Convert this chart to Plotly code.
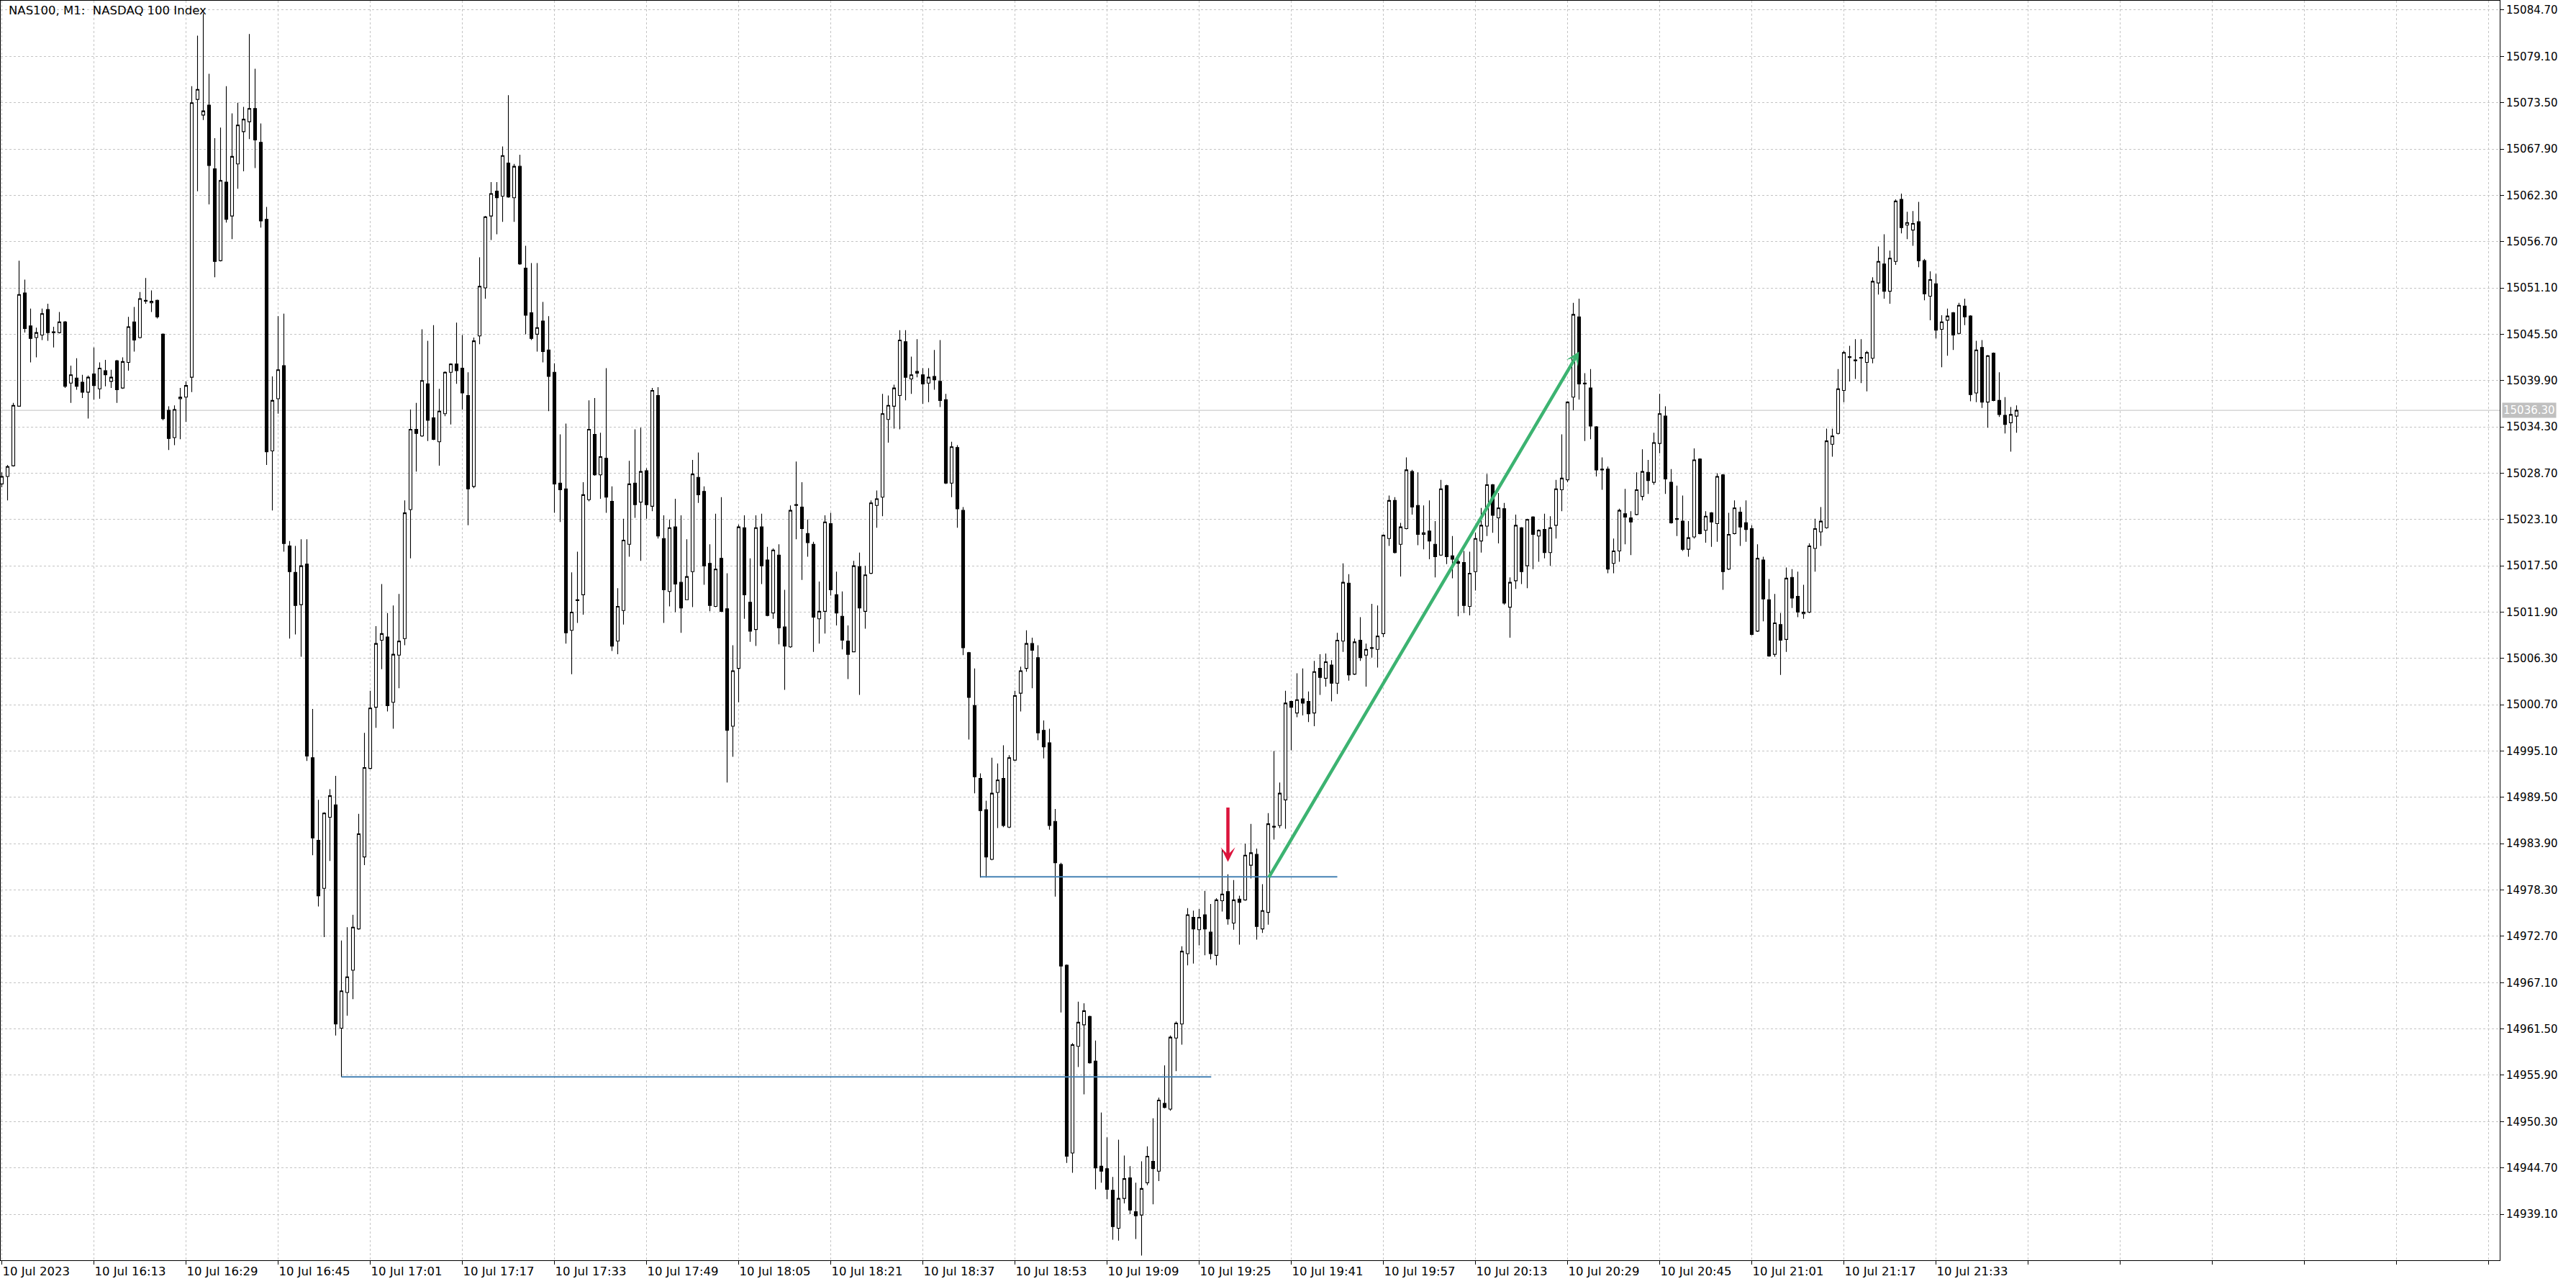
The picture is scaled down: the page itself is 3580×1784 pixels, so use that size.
import plotly.graph_objects as go

# ---------------- data (NAS100, M1, 10 Jul 2023, first bar 15:57) ----------------
opens = [
15027.4, 15028.3, 15029.6, 15036.8, 15050.5, 15046.5, 15045.1, 15045.4, 15048.5, 15045.7,
15045.7, 15047.0, 15039.6, 15040.2, 15039.7, 15038.5, 15040.7, 15038.9, 15041.1, 15039.8,
15042.3, 15039.0, 15042.1, 15047.0, 15045.1, 15049.5, 15049.3, 15049.6, 15045.5, 15036.3,
15033.0, 15037.7, 15037.9, 15040.3, 15073.9, 15072.0, 15073.2, 15065.5, 15054.4, 15063.9,
15059.8, 15066.1, 15070.0, 15071.2, 15072.8, 15068.7, 15059.4, 15031.4, 15037.7, 15041.7,
15019.9, 15016.7, 15012.8, 15017.7, 14994.3, 14984.3, 14978.5, 14987.1, 14988.6, 14961.6,
14965.9, 14968.6, 14973.6, 14982.3, 14993.0, 15000.4, 15008.5, 15008.9, 15001.0, 15006.7,
15008.7, 15024.3, 15034.0, 15033.2, 15039.5, 15035.4, 15032.5, 15035.9, 15040.9, 15041.9,
15041.4, 15038.1, 15027.1, 15045.3, 15051.1, 15059.8, 15062.8, 15062.2, 15066.2, 15062.0,
15065.8, 15053.5, 15048.1, 15045.5, 15047.1, 15043.6, 15040.9, 15027.5, 15026.8, 15009.7,
15013.3, 15014.0, 15025.5, 15033.4, 15028.5, 15030.5, 15025.3, 15008.4, 15012.1, 15020.1,
15027.5, 15025.2, 15029.0, 15024.7, 15038.1, 15020.8, 15014.4, 15022.2, 15015.5, 15013.4,
15016.8, 15028.2, 15026.5, 15017.8, 15012.6, 15018.4, 15012.3, 14998.1, 15005.1, 15022.1,
15013.1, 15009.8, 15022.2, 15018.2, 15011.8, 15018.8, 15010.1, 15007.7, 15024.8, 15024.6,
15021.4, 15020.1, 15011.1, 15012.0, 15022.6, 15014.0, 15011.4, 15008.4, 15007.1, 15017.4,
15012.0, 15016.6, 15024.8, 15025.8, 15035.2, 15036.8, 15038.1, 15044.6, 15040.1, 15041.0,
15040.6, 15039.6, 15040.4, 15039.8, 15037.6, 15027.5, 15031.8, 15024.2, 15007.0, 15000.6,
14991.8, 14988.0, 14982.0, 14990.1, 14991.8, 14985.9, 14994.0, 15002.1, 15005.1, 15008.1,
15006.4, 14997.6, 14996.1, 14986.6, 14981.4, 14969.2, 14946.5, 14959.4, 14962.0, 14963.0,
14957.6, 14944.9, 14944.6, 14942.0, 14937.4, 14941.0, 14943.5, 14939.4, 14939.0, 14942.9,
14945.5, 14944.3, 14952.5, 14951.8, 14960.4, 14962.1, 14970.6, 14975.0, 14973.5, 14975.3,
14973.2, 14970.4, 14977.0, 14978.1, 14974.3, 14977.2, 14977.1, 14981.3, 14982.6, 14973.6,
14975.6, 14986.0, 14986.1, 14989.2, 15001.1, 14999.7, 15001.4, 15001.1, 14999.7, 15005.1,
15003.9, 15005.5, 15003.3, 15008.4, 15015.4, 15004.4, 15008.5, 15006.7, 15007.6, 15007.4,
15009.3, 15020.8, 15025.4, 15020.1, 15022.0, 15028.9, 15024.8, 15021.3, 15021.7, 15020.1,
15018.8, 15027.2, 15018.7, 15018.0, 15017.9, 15012.6, 15016.8, 15020.5, 15022.3, 15027.3,
15023.3, 15024.4, 15012.5, 15015.7, 15022.1, 15017.5, 15023.4, 15021.1, 15021.9, 15019.1,
15022.4, 15026.7, 15027.9, 15037.9, 15047.6, 15039.6, 15039.0, 15034.3, 15029.2, 15029.2,
15017.8, 15019.3, 15023.8, 15023.3, 15023.7, 15025.9, 15028.8, 15027.6, 15032.3, 15035.6,
15027.6, 15023.2, 15022.9, 15019.5, 15021.0, 15030.4, 15021.8, 15023.9, 15022.6, 15028.5,
15017.1, 15021.4, 15024.0, 15022.7, 15022.0, 15009.6, 15018.2, 15013.4, 15006.8, 15010.4,
15008.6, 15016.1, 15013.8, 15011.7, 15011.9, 15019.6, 15021.6, 15022.1, 15032.2, 15033.5,
15038.7, 15042.7, 15042.4, 15042.7, 15042.1, 15042.6, 15051.7, 15054.0, 15050.7, 15054.3,
15061.8, 15058.7, 15058.1, 15059.1, 15054.4, 15050.1, 15051.6, 15046.1, 15047.2, 15048.1,
15045.6, 15048.9, 15047.7, 15038.4, 15043.9, 15037.3, 15043.2, 15037.5, 15035.7, 15034.8,
15035.6,
]

highs = [
15028.8, 15029.7, 15037.2, 15054.4, 15052.1, 15048.6, 15046.3, 15048.6, 15049.2, 15046.4,
15048.2, 15047.1, 15041.7, 15042.6, 15040.6, 15040.5, 15043.9, 15042.1, 15042.4, 15041.2,
15042.4, 15042.7, 15047.6, 15048.8, 15050.6, 15052.3, 15050.8, 15049.7, 15045.6, 15036.8,
15036.9, 15039.0, 15039.8, 15075.5, 15081.6, 15084.3, 15077.0, 15069.2, 15070.5, 15075.5,
15072.2, 15073.5, 15073.0, 15081.8, 15077.6, 15071.0, 15060.9, 15040.4, 15047.7, 15048.0,
15020.5, 15019.9, 15020.7, 15020.7, 15000.2, 14989.2, 14987.7, 14990.5, 14992.1, 14972.2,
14973.8, 14975.3, 14987.5, 14997.3, 15002.4, 15010.2, 15015.3, 15011.8, 15012.7, 15014.1,
15025.4, 15036.4, 15037.2, 15046.1, 15044.7, 15046.6, 15038.9, 15041.0, 15042.0, 15046.9,
15045.4, 15040.9, 15045.1, 15054.8, 15059.8, 15063.9, 15063.9, 15068.2, 15074.4, 15066.1,
15067.2, 15056.2, 15054.1, 15054.1, 15049.4, 15047.7, 15042.0, 15033.4, 15034.7, 15016.7,
15019.2, 15027.6, 15037.5, 15037.8, 15033.6, 15041.4, 15027.1, 15014.8, 15023.2, 15030.2,
15034.0, 15034.2, 15029.3, 15039.0, 15039.1, 15023.6, 15023.1, 15025.6, 15023.6, 15020.7,
15030.3, 15031.2, 15027.1, 15020.1, 15023.8, 15025.8, 15016.6, 15007.9, 15022.5, 15023.6,
15018.4, 15023.6, 15023.8, 15019.8, 15019.6, 15020.1, 15014.6, 15024.8, 15030.1, 15027.6,
15023.1, 15020.4, 15015.6, 15023.6, 15023.9, 15016.8, 15014.4, 15010.3, 15018.1, 15019.1,
15017.5, 15025.4, 15026.6, 15038.3, 15038.1, 15039.4, 15046.0, 15046.0, 15042.8, 15044.9,
15041.4, 15041.4, 15043.6, 15044.8, 15038.3, 15032.5, 15032.1, 15024.6, 15007.1, 15005.1,
14992.4, 14989.1, 14994.3, 14993.6, 14995.8, 14994.6, 15002.4, 15005.3, 15009.7, 15008.8,
15007.9, 14998.8, 14997.8, 14988.1, 14981.6, 14969.3, 14959.8, 14964.8, 14964.6, 14963.1,
14960.1, 14951.4, 14948.4, 14943.6, 14948.1, 14946.2, 14944.9, 14942.9, 14945.5, 14947.3,
14950.7, 14953.2, 14957.1, 14960.7, 14962.4, 14971.5, 14976.1, 14975.8, 14976.0, 14978.2,
14976.6, 14977.3, 14983.2, 14980.2, 14979.5, 14977.6, 14983.9, 14986.3, 14983.3, 14979.0,
14987.6, 14995.1, 14991.3, 15002.4, 15001.2, 15004.5, 15005.1, 15002.3, 15006.0, 15006.8,
15006.9, 15006.1, 15009.4, 15017.8, 15016.5, 15008.7, 15011.3, 15008.1, 15012.9, 15012.7,
15021.3, 15026.0, 15025.8, 15022.7, 15030.6, 15029.1, 15028.8, 15024.8, 15025.4, 15022.9,
15027.9, 15027.3, 15021.1, 15018.6, 15019.3, 15019.2, 15021.5, 15024.5, 15028.6, 15027.4,
15026.3, 15025.1, 15016.1, 15023.7, 15022.2, 15023.2, 15023.5, 15021.9, 15023.8, 15023.5,
15027.9, 15033.4, 15037.4, 15049.3, 15049.8, 15040.8, 15041.3, 15034.4, 15030.6, 15029.5,
15020.8, 15024.4, 15026.8, 15024.1, 15028.8, 15031.6, 15030.3, 15033.6, 15038.3, 15036.8,
15029.2, 15027.2, 15026.0, 15022.9, 15031.7, 15030.5, 15024.1, 15024.0, 15028.7, 15028.6,
15023.9, 15025.4, 15024.6, 15025.4, 15022.4, 15020.1, 15018.6, 15015.9, 15014.1, 15011.8,
15017.3, 15017.1, 15016.8, 15015.2, 15020.2, 15023.2, 15024.6, 15034.1, 15034.1, 15041.3,
15043.5, 15044.1, 15044.9, 15044.9, 15043.5, 15052.4, 15056.1, 15057.6, 15055.6, 15061.8,
15062.5, 15060.3, 15060.4, 15061.5, 15054.6, 15053.1, 15052.8, 15047.8, 15048.6, 15048.2,
15049.3, 15049.8, 15047.8, 15044.7, 15044.8, 15043.0, 15043.3, 15040.9, 15037.9, 15036.7,
15036.9,
]

lows = [
15027.0, 15025.4, 15029.5, 15036.8, 15045.7, 15042.1, 15042.7, 15044.8, 15044.7, 15043.9,
15045.6, 15039.0, 15037.2, 15038.8, 15037.8, 15035.3, 15037.6, 15037.7, 15039.2, 15039.0,
15037.2, 15038.9, 15041.1, 15043.4, 15045.0, 15049.2, 15048.2, 15047.4, 15035.1, 15031.5,
15032.1, 15032.8, 15034.9, 15038.5, 15062.8, 15071.4, 15061.2, 15052.4, 15054.3, 15059.0,
15057.0, 15063.1, 15065.2, 15069.1, 15065.6, 15058.4, 15029.7, 15024.2, 15035.9, 15019.2,
15008.7, 15009.2, 15006.5, 14993.9, 14982.5, 14976.3, 14972.6, 14981.8, 14960.7, 14955.7,
14963.1, 14965.1, 14973.5, 14981.3, 14992.9, 14997.9, 15005.0, 14999.9, 14997.8, 15002.7,
15007.9, 15018.4, 15028.9, 15033.1, 15032.6, 15032.7, 15029.6, 15035.6, 15034.6, 15039.5,
15036.4, 15022.4, 15026.9, 15044.3, 15049.8, 15056.9, 15057.6, 15059.1, 15062.0, 15059.1,
15053.9, 15045.5, 15044.8, 15043.4, 15042.1, 15036.2, 15023.9, 15022.8, 15008.1, 15004.4,
15010.6, 15011.6, 15025.3, 15028.4, 15025.6, 15023.9, 15007.2, 15006.8, 15010.4, 15018.6,
15023.3, 15018.1, 15023.2, 15024.1, 15020.8, 15010.6, 15012.6, 15011.9, 15009.4, 15013.4,
15012.5, 15025.1, 15015.2, 15012.0, 15012.5, 15011.9, 14991.3, 14994.4, 15001.0, 15011.1,
15008.3, 15007.8, 15015.3, 15011.4, 15011.1, 15008.0, 15002.5, 15007.6, 15020.7, 15015.8,
15018.6, 15007.1, 15008.1, 15009.3, 15013.9, 15010.3, 15007.4, 15003.8, 15007.1, 15001.9,
15009.9, 15016.5, 15022.1, 15023.5, 15032.4, 15034.1, 15034.0, 15037.5, 15038.3, 15040.3,
15037.1, 15037.3, 15038.8, 15036.7, 15027.4, 15025.8, 15022.1, 15006.7, 14996.5, 14990.0,
14979.8, 14979.8, 14981.9, 14985.8, 14985.9, 14985.8, 14993.9, 14999.9, 15004.7, 15002.7,
14996.4, 14994.2, 14985.6, 14977.5, 14963.5, 14945.3, 14944.1, 14956.9, 14953.6, 14957.3,
14942.1, 14942.9, 14940.9, 14936.0, 14935.9, 14940.4, 14939.1, 14936.1, 14934.1, 14942.6,
14940.3, 14943.1, 14951.9, 14951.6, 14956.4, 14959.6, 14969.2, 14969.4, 14971.6, 14970.4,
14969.9, 14969.2, 14975.7, 14974.1, 14973.5, 14971.7, 14977.0, 14979.7, 14972.3, 14973.1,
14974.1, 14984.4, 14985.8, 14985.7, 14995.2, 14999.2, 14999.4, 14998.6, 14998.1, 15001.9,
15002.9, 15001.1, 15002.0, 15007.1, 15003.6, 15004.3, 15006.0, 15002.9, 15006.4, 15005.2,
15008.9, 15019.9, 15019.0, 15016.2, 15021.9, 15023.7, 15020.0, 15019.5, 15018.3, 15016.1,
15018.7, 15017.7, 15016.0, 15011.4, 15011.8, 15011.5, 15014.5, 15019.1, 15021.1, 15021.5,
15020.2, 15012.8, 15008.8, 15014.7, 15015.3, 15014.8, 15017.1, 15018.0, 15018.4, 15017.5,
15020.8, 15024.1, 15027.6, 15036.3, 15037.6, 15032.6, 15032.8, 15028.3, 15026.7, 15016.6,
15016.6, 15018.0, 15020.1, 15018.8, 15023.6, 15025.4, 15026.2, 15027.3, 15031.1, 15026.2,
15022.6, 15021.1, 15019.3, 15018.6, 15020.8, 15021.3, 15020.3, 15019.8, 15020.4, 15014.6,
15017.0, 15021.3, 15019.9, 15020.4, 15009.1, 15009.5, 15010.8, 15006.5, 15006.5, 15004.3,
15007.1, 15012.4, 15011.3, 15011.1, 15011.8, 15016.8, 15019.9, 15022.0, 15030.7, 15033.4,
15037.3, 15039.8, 15040.1, 15039.6, 15038.6, 15042.0, 15050.3, 15049.8, 15049.2, 15053.9,
15057.7, 15057.0, 15056.2, 15053.6, 15049.6, 15047.2, 15045.0, 15041.5, 15042.9, 15043.6,
15045.5, 15046.6, 15037.4, 15037.3, 15036.6, 15034.2, 15037.4, 15035.5, 15033.5, 15031.3,
15033.6,
]

closes = [
15028.3, 15029.5, 15036.9, 15050.3, 15046.2, 15045.0, 15045.7, 15048.0, 15045.7, 15045.8,
15047.0, 15039.2, 15040.6, 15039.2, 15038.5, 15040.3, 15039.3, 15041.4, 15040.6, 15040.3,
15038.8, 15042.2, 15046.4, 15044.8, 15049.8, 15049.6, 15049.5, 15047.6, 15035.3, 15032.9,
15036.4, 15037.9, 15039.3, 15073.5, 15075.1, 15072.5, 15065.9, 15054.3, 15064.1, 15059.4,
15067.0, 15070.8, 15071.5, 15072.8, 15069.0, 15059.2, 15031.3, 15037.5, 15041.2, 15020.2,
15016.8, 15012.7, 15017.5, 14994.5, 14984.6, 14977.6, 14987.6, 14989.7, 14962.1, 14966.1,
14967.8, 14973.8, 14985.1, 14993.1, 15000.3, 15008.1, 15009.3, 15000.6, 15006.8, 15008.4,
15023.9, 15034.0, 15033.5, 15039.9, 15035.1, 15032.8, 15036.2, 15040.9, 15041.9, 15041.1,
15038.4, 15026.8, 15044.7, 15051.3, 15059.7, 15062.5, 15062.0, 15067.1, 15062.1, 15065.8,
15054.0, 15047.8, 15045.0, 15046.3, 15043.4, 15040.4, 15027.4, 15026.7, 15009.4, 15011.9,
15013.4, 15026.1, 15034.0, 15028.5, 15030.7, 15025.8, 15007.8, 15012.6, 15020.6, 15027.4,
15024.9, 15028.9, 15024.9, 15038.7, 15021.1, 15014.6, 15022.1, 15015.3, 15012.4, 15016.2,
15028.6, 15026.1, 15017.5, 15012.7, 15017.1, 15012.0, 14997.6, 15004.8, 15022.2, 15014.0,
15009.6, 15022.1, 15017.5, 15011.5, 15019.4, 15010.0, 15007.8, 15024.2, 15024.9, 15022.0,
15020.3, 15011.3, 15012.0, 15022.8, 15014.6, 15011.8, 15008.5, 15006.8, 15017.5, 15012.4,
15016.4, 15025.1, 15025.6, 15035.9, 15036.9, 15039.0, 15044.8, 15040.3, 15040.6, 15040.8,
15039.5, 15040.3, 15040.0, 15037.5, 15027.5, 15031.9, 15024.4, 15007.6, 15001.6, 14992.0,
14987.9, 14982.3, 14990.0, 14991.6, 14986.1, 14994.3, 15001.8, 15004.8, 15008.1, 15007.3,
14997.3, 14995.6, 14986.1, 14981.6, 14969.1, 14946.1, 14959.6, 14962.3, 14963.7, 14957.4,
14944.7, 14944.3, 14942.1, 14937.6, 14941.0, 14943.4, 14939.6, 14938.9, 14942.2, 14946.1,
14944.6, 14952.9, 14952.0, 14960.5, 14962.2, 14970.9, 14975.3, 14973.6, 14975.0, 14973.6,
14970.6, 14977.1, 14977.8, 14974.8, 14977.1, 14976.8, 14982.5, 14982.8, 14973.9, 14975.8,
14986.3, 14985.9, 14990.0, 15000.9, 15000.4, 15001.3, 15000.9, 14999.6, 15004.7, 15004.0,
15005.9, 15003.3, 15008.5, 15015.5, 15004.3, 15008.3, 15006.4, 15007.4, 15007.5, 15009.0,
15021.2, 15025.4, 15019.1, 15022.2, 15029.1, 15024.6, 15021.3, 15021.5, 15020.5, 15018.6,
15026.8, 15018.6, 15018.3, 15017.8, 15012.7, 15016.6, 15020.8, 15022.4, 15027.3, 15023.6,
15024.5, 15013.0, 15015.5, 15022.4, 15016.8, 15023.1, 15021.3, 15021.8, 15019.1, 15022.1,
15026.8, 15028.1, 15037.3, 15047.9, 15039.5, 15039.5, 15034.4, 15029.1, 15029.1, 15017.1,
15019.3, 15024.2, 15023.4, 15022.8, 15026.7, 15028.9, 15027.8, 15032.4, 15035.9, 15028.0,
15022.7, 15023.1, 15019.5, 15020.9, 15030.3, 15021.4, 15023.5, 15022.8, 15028.3, 15016.8,
15021.3, 15024.5, 15022.2, 15021.9, 15009.2, 15018.4, 15013.5, 15006.6, 15010.6, 15008.5,
15016.0, 15013.6, 15011.9, 15011.9, 15019.9, 15022.0, 15022.9, 15032.6, 15033.2, 15038.9,
15043.3, 15042.8, 15042.3, 15042.6, 15043.3, 15051.9, 15054.3, 15050.7, 15054.7, 15061.6,
15058.4, 15059.0, 15058.9, 15054.4, 15050.4, 15052.1, 15046.0, 15047.0, 15047.7, 15045.4,
15049.0, 15047.6, 15038.2, 15043.6, 15037.3, 15042.9, 15037.5, 15035.8, 15034.6, 15035.8,
15036.3,
]

time_labels = [
    "10 Jul 2023", "10 Jul 16:13", "10 Jul 16:29", "10 Jul 16:45", "10 Jul 17:01",
    "10 Jul 17:17", "10 Jul 17:33", "10 Jul 17:49", "10 Jul 18:05", "10 Jul 18:21",
    "10 Jul 18:37", "10 Jul 18:53", "10 Jul 19:09", "10 Jul 19:25", "10 Jul 19:41",
    "10 Jul 19:57", "10 Jul 20:13", "10 Jul 20:29", "10 Jul 20:45", "10 Jul 21:01",
    "10 Jul 21:17", "10 Jul 21:33",
]
bars_per_label = 16
visible_bars = 434  # width of the visible time window, in bars

price_tick_labels = [
    "14939.10", "14944.70", "14950.30", "14955.90", "14961.50", "14967.10", "14972.70",
    "14978.30", "14983.90", "14989.50", "14995.10", "15000.70", "15006.30", "15011.90",
    "15017.50", "15023.10", "15028.70", "15034.30", "15039.90", "15045.50", "15051.10",
    "15056.70", "15062.30", "15067.90", "15073.50", "15079.10", "15084.70",
]
price_range = [14933.53, 15085.83]

current_price = 15036.30

# horizontal level lines: start bar, end bar, price
level_starts = [59, 170]
level_ends = [210.1, 232.0]
level_prices = [14955.7, 14979.9]

# green trend arrow (bar, price)
trend_start = (220, 14979.7)
trend_end = (274, 15043.4)

# red signal arrow
signal_bar = 213
signal_top = 14988.4
signal_tip = 14981.7

# ---------------- figure ----------------
bars = list(range(len(opens)))

fig = go.Figure()
fig.add_trace(go.Candlestick(
    x=bars, open=opens, high=highs, low=lows, close=closes,
    increasing=dict(line=dict(color="black", width=1.1), fillcolor="white"),
    decreasing=dict(line=dict(color="black", width=1.1), fillcolor="black"),
    whiskerwidth=0, showlegend=False, hoverinfo="skip",
))

grid_ticks = list(range(0, visible_bars, bars_per_label))
grid_text = [time_labels[k] if k < len(time_labels) else "" for k in range(len(grid_ticks))]

FONT = "DejaVu Sans"
GRID = "#c4c4c4"
x_left = -0.1875

fig.update_xaxes(
    range=[x_left, x_left + 3473 / 8],
    tickmode="array", tickvals=grid_ticks, ticktext=grid_text,
    ticklabelposition="outside right",
    ticks="outside", ticklen=5, tickcolor="black", tickwidth=1,
    showgrid=True, gridcolor=GRID, gridwidth=1, griddash="3px,3px",
    showline=True, linecolor="black", linewidth=1, mirror=True,
    zeroline=False, rangeslider=dict(visible=False),
    tickfont=dict(family=FONT, size=16.5, color="black"),
)
fig.update_yaxes(
    side="right", range=price_range,
    tickmode="array", tickvals=[float(t) for t in price_tick_labels], ticktext=price_tick_labels,
    ticks="outside", ticklen=5, tickcolor="black", tickwidth=1,
    showgrid=True, gridcolor=GRID, gridwidth=1, griddash="3px,3px",
    showline=True, linecolor="black", linewidth=1, mirror=True,
    zeroline=False,
    tickfont=dict(family=FONT, size=15, color="black"),
)

shapes = [dict(type="line", xref="paper", yref="y", x0=0, x1=1, y0=current_price, y1=current_price,
               line=dict(color="#c0c0c0", width=1), layer="below")]
for x0, x1, p in zip(level_starts, level_ends, level_prices):
    shapes.append(dict(type="line", xref="x", yref="y", x0=x0, x1=x1, y0=p, y1=p,
                       line=dict(color="#4682b4", width=2)))

annotations = [
    dict(xref="paper", yref="paper", x=0, y=1, xanchor="left", yanchor="top",
         xshift=9, yshift=-2, showarrow=False,
         text="NAS100, M1:\u00a0 NASDAQ 100 Index",
         font=dict(family=FONT, size=16.5, color="black")),
    dict(xref="paper", yref="y", x=1, y=current_price, xanchor="left", yanchor="middle",
         xshift=3, showarrow=False, text=f"{current_price:.2f}", bgcolor="#c0c0c0",
         borderpad=1, font=dict(family=FONT, size=15, color="white")),
    dict(xref="x", yref="y", axref="x", ayref="y",
         x=trend_end[0], y=trend_end[1], ax=trend_start[0], ay=trend_start[1],
         showarrow=True, arrowhead=3, arrowsize=0.7, arrowwidth=4.5, arrowcolor="#3cb371", text=""),
    dict(xref="x", yref="y", axref="x", ayref="y",
         x=signal_bar, y=signal_tip, ax=signal_bar, ay=signal_top,
         showarrow=True, arrowhead=3, arrowsize=0.75, arrowwidth=4.5, arrowcolor="#dc143c", text=""),
]

fig.update_layout(
    width=3580, height=1784,
    margin=dict(l=1, r=106, t=1, b=33, pad=0),
    paper_bgcolor="white", plot_bgcolor="white",
    font=dict(family=FONT, size=15, color="black"),
    showlegend=False, hovermode=False,
    boxgap=0.2929, boxgroupgap=0.2929,
    shapes=shapes, annotations=annotations,
)

fig.write_html("out.html", include_plotlyjs=True, config={"displayModeBar": False},
               post_script="document.body.style.margin='0';document.body.style.overflow='hidden';")
